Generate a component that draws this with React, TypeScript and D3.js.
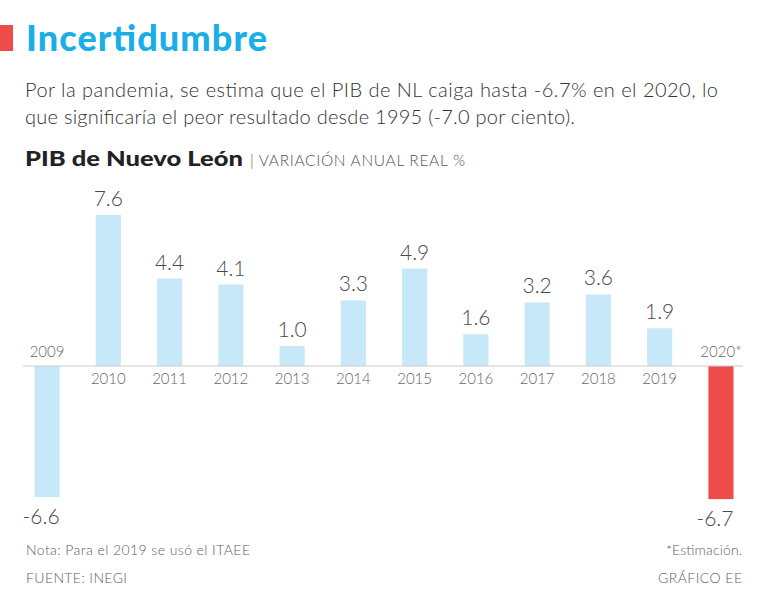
import React from 'react';
import * as d3 from 'd3';

const years = ['2009', '2010', '2011', '2012', '2013', '2014', '2015', '2016', '2017', '2018', '2019', '2020*'];
const pib = [-6.6, 7.6, 4.4, 4.1, 1.0, 3.3, 4.9, 1.6, 3.2, 3.6, 1.9, -6.7];
const estimated = ['2020*'];

const W = 768;
const H = 608;
const font = 'Lato, "Noto Sans", sans-serif';

export default function App() {
  const x = d3.scaleBand<string>().domain(years).range([34.5, 733.5]).paddingInner(0.59).paddingOuter(0);
  const y = d3.scaleLinear().domain([0, 7.6]).range([366, 215]);

  const bw = x.bandwidth();

  return (
    <svg width={W} height={H} style={{ position: 'absolute', left: 0, top: 0, background: '#fff' }} fontFamily={font}>
      <rect x={0} y={25} width={13} height={26} fill="#ef4b4b" />
      <text x={26} y={51} fontSize={36} fontWeight={900} fill="#1aaee8" textLength={241} lengthAdjust="spacing">Incertidumbre</text>
      <text x={25} y={97} fontSize={20} fontWeight={300} fill="#333" textLength={693} lengthAdjust="spacing">
        Por la pandemia, se estima que el PIB de NL caiga hasta -6.7% en el 2020, lo
      </text>
      <text x={25} y={124} fontSize={20} fontWeight={300} fill="#333" textLength={550} lengthAdjust="spacing">
        que significaría el peor resultado desde 1995 (-7.0 por ciento).
      </text>
      <text x={25} y={166} fontSize={21} fontWeight={900} fill="#222" textLength={218} lengthAdjust="spacingAndGlyphs">PIB de Nuevo León</text>
      <text x={250} y={166} fontSize={15.5} fontWeight={300} fill="#555" textLength={215} lengthAdjust="spacing">| VARIACIÓN ANUAL REAL %</text>

      {years.map((yr, i) => {
        const v = pib[i];
        const bx = x(yr)!;
        const top = v >= 0 ? y(v) : y(0);
        const h = Math.abs(y(v) - y(0));
        const cx = bx + bw / 2;
        return (
          <g key={yr}>
            <rect x={bx} y={top} width={bw} height={h} fill={estimated.includes(yr) ? '#ef4b4b' : '#c6e8f9'} />
            <text x={v >= 0 ? cx : cx - 6} y={v >= 0 ? y(v) - 9 : y(v) + 27} textAnchor="middle" fontSize={21} fontWeight={300} fill="#4a4a4a">
              {v.toFixed(1)}
            </text>
            <text x={cx} y={v >= 0 ? y(0) + 18 : y(0) - 9} textAnchor="middle" fontSize={15} fontWeight={300} fill="#666">
              {yr}
            </text>
          </g>
        );
      })}
      <line x1={23} x2={743} y1={y(0)} y2={y(0)} stroke="#ccc" strokeWidth={1.2} />

      <text x={26} y={555} fontSize={14} fontWeight={300} fill="#5e5e5e" textLength={224} lengthAdjust="spacing">Nota: Para el 2019 se usó el ITAEE</text>
      <text x={666} y={555} fontSize={14} fontWeight={300} fill="#5e5e5e" textLength={76} lengthAdjust="spacing">*Estimación.</text>
      <text x={26} y={583} fontSize={14} fontWeight={300} fill="#5e5e5e" textLength={101} lengthAdjust="spacing">FUENTE: INEGI</text>
      <text x={658} y={583} fontSize={14} fontWeight={300} fill="#5e5e5e" textLength={84} lengthAdjust="spacing">GRÁFICO EE</text>
    </svg>
  );
}
